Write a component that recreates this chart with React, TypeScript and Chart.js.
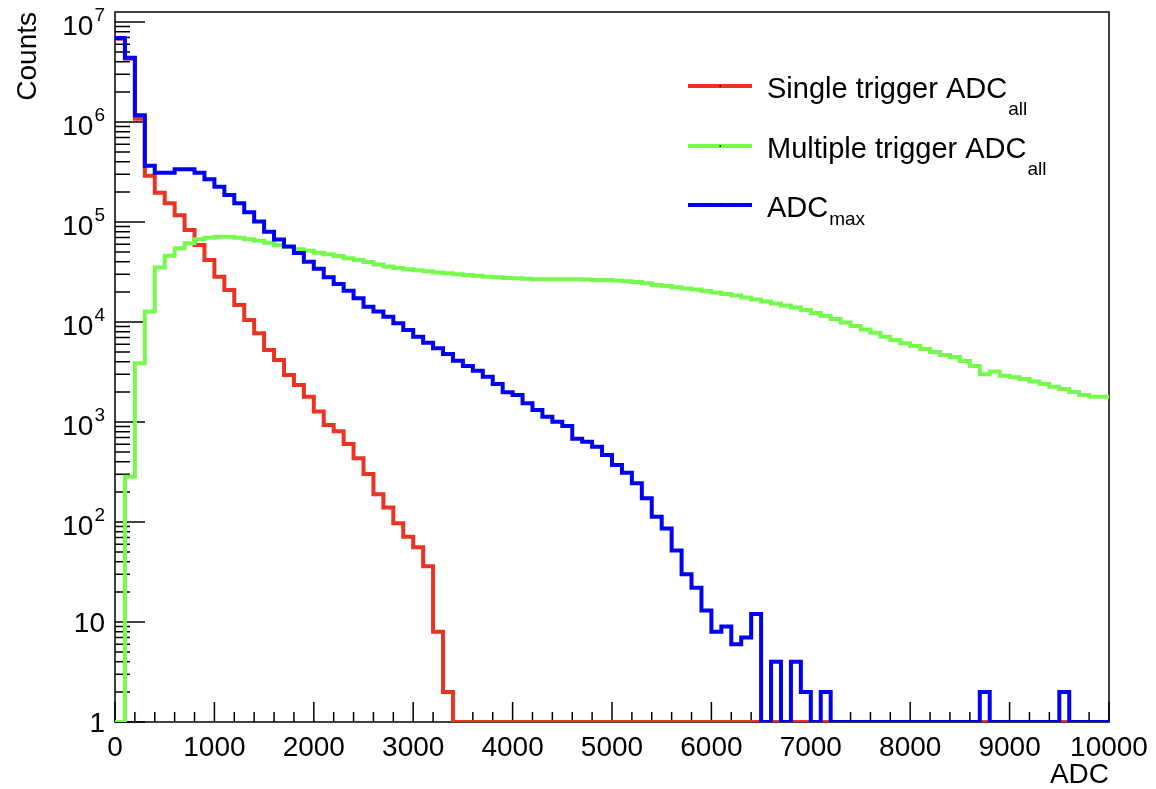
import React, { useEffect, useRef } from "react";
import { Chart, registerables } from "chart.js";

Chart.register(...registerables);

// ---------- data ----------
const BIN_WIDTH = 100;
const X_MIN = 0;
const X_MAX = 10000;
const Y_MIN = 1;
const Y_MAX = 1.259e7;

// bin left edges (ADC), 100 bins of 100 ADC
const binEdges: number[] = Array.from({ length: 100 }, (_, i) => X_MIN + i * BIN_WIDTH);

// Single trigger ADC_all (red)
const singleTrigger: number[] = [
  6800000, 4300000, 1080000, 290000, 196000, 154000, 117000, 83000, 59000, 41700,
  28400, 20900, 14800, 10500, 7700, 5250, 4170, 2950, 2340, 1790,
  1270, 933, 810, 603, 433, 302, 190, 140, 97, 71,
  56, 36, 8, 2, 0, 0, 0, 0, 0, 0,
  0, 0, 0, 0, 0, 0, 0, 0, 0, 0,
  0, 0, 0, 0, 0, 0, 0, 0, 0, 0,
  0, 0, 0, 0, 0, 0, 0, 0, 0, 0,
  0, 0, 0, 0, 0, 0, 0, 0, 0, 0,
  0, 0, 0, 0, 0, 0, 0, 0, 0, 0,
  0, 0, 0, 0, 0, 0, 0, 0, 0, 0,
];

// Multiple trigger ADC_all (green)
const multipleTrigger: number[] = [
  0, 284, 3860, 12700, 35100, 45900, 54600, 61200, 67100, 69700,
  71300, 71300, 69700, 67100, 65000, 62100, 58900, 56200, 53300, 51600,
  49300, 47500, 45700, 43300, 41700, 39800, 37600, 35900, 34700, 33700,
  32900, 32100, 31300, 30700, 30000, 29500, 29000, 28400, 28000, 27500,
  27400, 27000, 26800, 26700, 26700, 26700, 26700, 26600, 26300, 26300,
  26000, 25500, 25100, 24400, 23400, 22900, 22200, 21600, 21100, 20400,
  19700, 19100, 18400, 17600, 16800, 16000, 15300, 14600, 14000, 13200,
  12300, 11500, 10700, 9900, 9100, 8400, 7800, 7130, 6600, 6120,
  5750, 5370, 5010, 4680, 4470, 4070, 3630, 3000, 3190, 2900,
  2800, 2690, 2540, 2400, 2250, 2140, 2000, 1860, 1790, 1790,
];

// ADC_max (blue)
const adcMax: number[] = [
  6900000, 4400000, 1170000, 366000, 311000, 311000, 337000, 337000, 311000, 267000,
  225000, 186000, 154000, 125000, 101000, 80000, 67000, 57000, 49000, 40000,
  34000, 28000, 24000, 20500, 17300, 14200, 12700, 11300, 9700, 8300,
  7130, 6210, 5460, 4790, 4100, 3630, 3250, 2840, 2400, 1980,
  1860, 1540, 1320, 1130, 1007, 910, 680, 636, 567, 468,
  372, 311, 244, 173, 113, 86, 52, 30, 22, 13,
  8, 9, 6, 7, 12, 0, 4, 0, 4, 2,
  0, 2, 0, 0, 0, 0, 0, 0, 0, 0,
  0, 0, 0, 0, 0, 0, 0, 2, 0, 0,
  0, 0, 0, 0, 0, 2, 0, 0, 0, 0,
];

const xTickValues: number[] = [0, 1000, 2000, 3000, 4000, 5000, 6000, 7000, 8000, 9000, 10000];
const yTickValues: number[] = [1, 10, 100, 1000, 10000, 100000, 1000000, 10000000];
const yTickBases: string[] = ["1", "10", "10", "10", "10", "10", "10", "10"];
const yTickExponents: string[] = ["", "", "2", "3", "4", "5", "6", "7"];

const seriesNames: string[] = ["Single trigger ADC", "Multiple trigger ADC", "ADC"];
const seriesSubscripts: string[] = ["all", "all", "max"];
const xTitle = "ADC";
const yTitle = "Counts";

// ---------- styles ----------
const FONT = "'Liberation Sans', Arial, Helvetica, sans-serif";
const seriesColors = ["#eb3324", "#75fb4c", "#0000f5"];
const legendRowY = [86, 146, 205];
const legendSubDy = [29, 29, 20];

function histPoints(values: number[]) {
  const pts = values.map((v, i) => ({ x: binEdges[i], y: Math.max(v, Y_MIN) }));
  pts.push({ x: binEdges[values.length - 1] + BIN_WIDTH, y: Math.max(values[values.length - 1], Y_MIN) });
  return pts;
}

const framePlugin = {
  id: "rootFrame",
  beforeDatasetsDraw(chart: any) {
    const { ctx, chartArea: a, scales } = chart;
    const xs = scales.x;
    const ys = scales.y;
    ctx.save();
    ctx.strokeStyle = "#000";
    ctx.lineWidth = 1.5;
    ctx.strokeRect(a.left, a.top, a.right - a.left, a.bottom - a.top);
    ctx.beginPath();
    for (let v = X_MIN; v <= X_MAX; v += 200) {
      const px = xs.getPixelForValue(v);
      const len = v % 1000 === 0 ? 20 : 10;
      ctx.moveTo(px, a.bottom);
      ctx.lineTo(px, a.bottom - len);
    }
    for (let d = 0; d <= 7; d++) {
      for (let m = 1; m <= 9; m++) {
        const v = m * Math.pow(10, d);
        if (v > Y_MAX) break;
        const py = ys.getPixelForValue(v);
        const len = m === 1 ? 30 : 15;
        ctx.moveTo(a.left, py);
        ctx.lineTo(a.left + len, py);
      }
    }
    ctx.stroke();

    // y tick labels with superscript exponents (positions from the log scale)
    ctx.fillStyle = "#000";
    ctx.textBaseline = "alphabetic";
    ctx.textAlign = "left";
    const rightEdge = a.left - 10;
    yTickValues.forEach((v, i) => {
      const py = ys.getPixelForValue(v);
      const base = yTickBases[i];
      const exp = yTickExponents[i];
      ctx.font = `28px ${FONT}`;
      const bw = ctx.measureText(base).width;
      ctx.font = `19px ${FONT}`;
      const ew = exp ? ctx.measureText(exp).width + 1 : 0;
      const x0 = rightEdge - bw - ew;
      ctx.font = `28px ${FONT}`;
      ctx.fillText(base, x0, py + (exp ? 13 : 10));
      if (exp) {
        ctx.font = `19px ${FONT}`;
        ctx.fillText(exp, x0 + bw + 1, py - 1);
      }
    });
    ctx.restore();
  },
};

const legendPlugin = {
  id: "rootLegend",
  afterDraw(chart: any) {
    const ctx = chart.ctx;
    ctx.save();
    seriesNames.forEach((name, i) => {
      const y = legendRowY[i];
      ctx.strokeStyle = seriesColors[i];
      ctx.lineWidth = 4;
      ctx.beginPath();
      ctx.moveTo(688, y);
      ctx.lineTo(752, y);
      ctx.stroke();
      ctx.fillStyle = "#000";
      ctx.fillRect(719.5, y - 0.75, 1.5, 1.5);
      ctx.textAlign = "left";
      ctx.textBaseline = "alphabetic";
      ctx.font = `29px ${FONT}`;
      ctx.fillText(name, 767, y + 12);
      const w = ctx.measureText(name).width;
      ctx.font = `19px ${FONT}`;
      ctx.fillText(seriesSubscripts[i], 767 + w + 1, y + legendSubDy[i]);
    });
    ctx.restore();
  },
};

export default function App() {
  const ref = useRef<HTMLCanvasElement | null>(null);

  useEffect(() => {
    if (!ref.current) return;
    const allSeries = [singleTrigger, multipleTrigger, adcMax];
    const chart = new Chart(ref.current, {
      type: "line",
      data: {
        datasets: allSeries.map((vals, i) => ({
          label: seriesNames[i] + seriesSubscripts[i],
          data: histPoints(vals),
          borderColor: seriesColors[i],
          backgroundColor: seriesColors[i],
          borderWidth: 4,
          pointRadius: 0,
          stepped: "before" as const,
          fill: false,
          borderJoinStyle: "miter" as const,
          borderCapStyle: "butt" as const,
          order: 2 - i,
        })),
      },
      options: {
        animation: false,
        responsive: false,
        devicePixelRatio: 1,
        layout: { padding: { top: 12, right: 47, bottom: 0, left: 0 } },
        plugins: {
          legend: { display: false },
          tooltip: { enabled: false },
        },
        scales: {
          x: {
            type: "linear",
            min: X_MIN,
            max: X_MAX,
            grid: { display: false },
            border: { display: false },
            afterBuildTicks: (s: any) => {
              s.ticks = xTickValues.map((v) => ({ value: v }));
            },
            afterFit: (s: any) => {
              s.height = 67;
              s.paddingLeft = 0;
              s.paddingRight = 0;
            },
            ticks: {
              autoSkip: false,
              maxRotation: 0,
              minRotation: 0,
              padding: 1,
              color: "#000",
              font: { family: FONT, size: 28 },
              callback: (v: any) => String(v),
            },
            title: {
              display: true,
              text: xTitle,
              align: "end",
              color: "#000",
              font: { family: FONT, size: 28, lineHeight: 1 },
              padding: { top: 0, bottom: 0 },
            },
          },
          y: {
            type: "logarithmic",
            min: Y_MIN,
            max: Y_MAX,
            grid: { display: false },
            border: { display: false },
            afterBuildTicks: (s: any) => {
              s.ticks = yTickValues.map((v) => ({ value: v }));
            },
            afterFit: (s: any) => {
              s.width = 115;
              s.paddingTop = 0;
              s.paddingBottom = 0;
            },
            ticks: {
              display: false,
              autoSkip: false,
            },
            title: {
              display: true,
              text: yTitle,
              align: "end",
              color: "#000",
              font: { family: FONT, size: 28, lineHeight: 1 },
              padding: { top: 14, bottom: 14 },
            },
          },
        },
      },
      plugins: [framePlugin, legendPlugin],
    } as any);
    return () => chart.destroy();
  }, []);

  return (
    <div style={{ position: "absolute", left: 0, top: 0, width: 1156, height: 789, background: "#fff" }}>
      <canvas ref={ref} width={1156} height={789} style={{ display: "block", width: 1156, height: 789 }} />
    </div>
  );
}
